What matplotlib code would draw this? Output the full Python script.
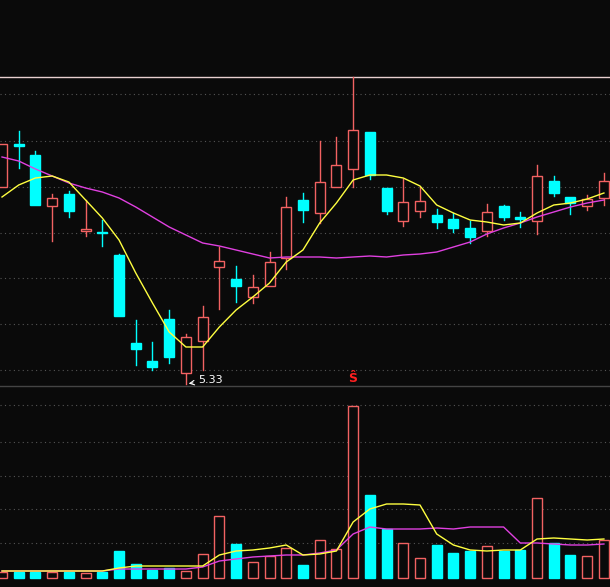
import matplotlib
matplotlib.use("Agg")
import matplotlib.pyplot as plt
from matplotlib.patches import Rectangle

opens  = [7.30,7.73,7.62,7.11,7.23,6.86,6.85,6.62,5.74,5.56,5.98,5.44,5.76,6.50,6.38,6.20,6.31,6.59,7.17,
          7.04,7.30,7.48,7.85,7.29,6.96,7.06,7.02,6.98,6.89,6.86,7.11,7.00,6.96,7.36,7.20,7.11,7.19]
closes = [7.73,7.71,7.12,7.19,7.06,6.88,6.84,6.01,5.68,5.50,5.60,5.80,6.00,6.56,6.31,6.30,6.55,7.10,7.07,
          7.35,7.52,7.87,7.42,7.06,7.15,7.16,6.95,6.89,6.80,7.05,7.00,6.98,7.41,7.24,7.14,7.18,7.36]
highs  = [7.73,7.86,7.66,7.23,7.26,7.17,6.97,6.63,5.97,5.75,6.07,5.83,6.11,6.70,6.51,6.42,6.65,7.20,7.24,
          7.76,7.80,8.40,7.85,7.29,7.38,7.30,7.08,7.04,6.96,7.13,7.12,7.05,7.52,7.41,7.20,7.22,7.44]
lows   = [7.30,7.49,7.12,6.76,7.00,6.81,6.71,6.01,5.52,5.47,5.54,5.33,5.47,6.08,6.15,6.14,6.31,6.48,6.95,
          6.94,7.30,7.30,7.38,7.03,6.91,7.00,6.89,6.85,6.74,6.81,6.97,6.90,6.83,7.21,7.03,7.07,7.12]
ma_fast = [7.20,7.32,7.39,7.41,7.35,7.17,6.99,6.77,6.44,6.14,5.85,5.70,5.70,5.90,6.07,6.20,6.34,6.55,6.67,
           6.94,7.14,7.37,7.42,7.42,7.39,7.31,7.12,7.04,6.97,6.95,6.92,6.94,7.04,7.12,7.14,7.18,7.24]
ma_slow = [7.60,7.56,7.48,7.41,7.34,7.29,7.25,7.19,7.10,7.00,6.90,6.82,6.74,6.71,6.67,6.63,6.59,6.60,6.60,
           6.60,6.59,6.60,6.61,6.60,6.62,6.63,6.65,6.70,6.75,6.83,6.89,6.94,7.00,7.05,7.10,7.14,7.17]
volume = [6,6,6,6,6,5,6,27,14,8,10,7,24,62,34,16,22,30,13,38,29,172,83,49,35,20,33,25,27,32,27,28,80,35,23,22,38]
vol_ma_fast = [7,7,7,7,7,7,7,10,12,12,12,12,12,23,27,28,30,33,23,24,27,56,69,74,74,73,44,33,28,27,28,28,39,40,39,38,39]
vol_ma_slow = [7,7,7,7,7,7,7,9,9,9,9,9,11,17,19,21,22,23,23,25,28,44,51,49,49,49,50,49,51,51,51,35,35,34,33,33,34]
low_label = "5.33"

BG = "#0a0a0a"; RED = "#f26262"; CYAN = "#00ffff"
W, H = 610, 587
fig = plt.figure(figsize=(6.1, 5.87), dpi=100, facecolor=BG)
ax = fig.add_axes([0, 1 - 388 / H, 1, 388 / H], facecolor=BG)
av = fig.add_axes([0, 0, 1, 197 / H], facecolor=BG)
step = 16.72
xl = (-2 / step, (W - 2) / step)
for a in (ax, av):
    a.set_xlim(*xl)
    a.set_axis_off()
ax.set_ylim(9.17 - 3.88, 9.17)
av.set_ylim(-9, 188)

for g in [8.23, 7.76, 7.30, 6.84, 6.39, 5.93, 5.47]:
    ax.axhline(g, color="#555555", lw=0.8, ls=(0, (1, 3)))
for g in [173, 136, 102, 69, 35]:
    av.axhline(g, color="#555555", lw=0.8, ls=(0, (1, 3)))
ax.axhline(max(highs), color="#e8d0d0", lw=1)
ax.axhline(9.17 - 3.86, color="#444444", lw=1)

bw = 0.6
n = len(opens)
for i in range(n):
    o, c, h, l = opens[i], closes[i], highs[i], lows[i]
    up = c >= o
    col = RED if up else CYAN
    top, bot = max(o, c), min(o, c)
    ax.plot([i, i], [top, h], color=col, lw=1, zorder=2)
    ax.plot([i, i], [l, bot], color=col, lw=1, zorder=2)
    hgt = max(top - bot, 0.015)
    if up:
        ax.add_patch(Rectangle((i - bw / 2, bot), bw, hgt, facecolor=BG, edgecolor=col, lw=1, zorder=3))
        av.add_patch(Rectangle((i - bw / 2, 0), bw, volume[i], facecolor=BG, edgecolor=RED, lw=1, zorder=3))
    else:
        ax.add_patch(Rectangle((i - bw / 2, bot), bw, hgt, facecolor=col, edgecolor=col, lw=1, zorder=3))
        av.add_patch(Rectangle((i - bw / 2, 0), bw, volume[i], facecolor=CYAN, edgecolor=CYAN, lw=1, zorder=3))

xs = list(range(n))
ax.plot(xs, ma_slow, color="#e040e0", lw=1, zorder=4)
ax.plot(xs, ma_fast, color="#ffff40", lw=1, zorder=4)
av.plot(xs, vol_ma_slow, color="#e040e0", lw=1, zorder=4)
av.plot(xs, vol_ma_fast, color="#ffff40", lw=1, zorder=4)

imin = lows.index(min(lows))
ax.annotate(low_label, xy=(imin, lows[imin]), xytext=(imin + 0.75, lows[imin] + 0.04),
            color="white", fontsize=8, va="center", ha="left",
            arrowprops=dict(arrowstyle="->", color="white", lw=0.8))
imax = highs.index(max(highs))
ax.text(imax, 9.17 - 3.79, "Ŝ", color="#ff2020", fontsize=9, fontweight="bold", ha="center", va="center")

fig.savefig("out.png", dpi=100, facecolor=BG)
